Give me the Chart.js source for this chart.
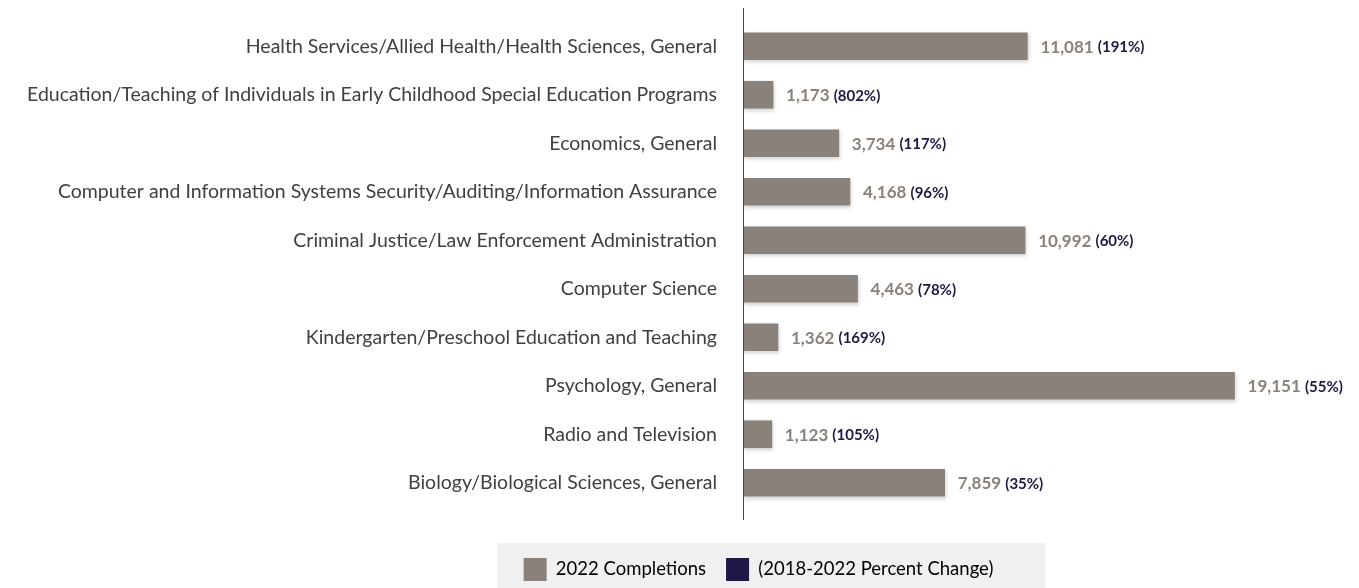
<!DOCTYPE html>
<html>
<head>
<meta charset="utf-8">
<script src="https://cdn.jsdelivr.net/npm/chart.js@4"></script>
<style>
  html, body { margin: 0; padding: 0; background: #fff; }
  #wrap { width: 1359px; height: 588px; }
</style>
</head>
<body>
<div id="wrap"><canvas id="programChart"></canvas></div>
<script>
const categories = [
    'Health Services/Allied Health/Health Sciences, General',
    'Education/Teaching of Individuals in Early Childhood Special Education Programs',
    'Economics, General',
    'Computer and Information Systems Security/Auditing/Information Assurance',
    'Criminal Justice/Law Enforcement Administration',
    'Computer Science',
    'Kindergarten/Preschool Education and Teaching',
    'Psychology, General',
    'Radio and Television',
    'Biology/Biological Sciences, General'
];
const completions = [11081, 1173, 3734, 4168, 10992, 4463, 1362, 19151, 1123, 7859];
const pctChange = [191, 802, 117, 96, 60, 78, 169, 55, 105, 35];
const legendNames = ['2022 Completions', '(2018-2022 Percent Change)'];

const GREY = '#8a827a';
const NAVY = '#1e1846';

// vertical axis line, value labels, legend backdrop
const extras = {
    id: 'extras',
    afterUpdate(chart) {
        // move legend to sit at the bottom edge, right of centre
        const lg = chart.legend;
        const dy = 3, dx = 79;
        lg.top += dy;
        lg.bottom += dy;
        lg.left += dx;
        lg.right += dx;
        lg.legendHitBoxes.forEach(h => { h.top += dy; h.left += dx; });
    },
    beforeDraw(chart) {
        const ctx = chart.ctx;
        const boxes = chart.legend.legendHitBoxes;
        if (!boxes.length) return;
        const first = boxes[0];
        const last = boxes[boxes.length - 1];
        const x1 = first.left - 26;
        const x2 = last.left + last.width + 52;
        ctx.save();
        ctx.fillStyle = '#f0f0f0';
        ctx.fillRect(x1, 543, x2 - x1, 45);
        ctx.restore();
    },
    beforeDatasetDraw(chart) {
        const ctx = chart.ctx;
        ctx.save();
        ctx.shadowColor = 'rgba(0,0,0,0.18)';
        ctx.shadowBlur = 4;
        ctx.shadowOffsetX = 1;
        ctx.shadowOffsetY = 2;
    },
    afterDatasetDraw(chart) {
        chart.ctx.restore();
    },
    afterDatasetsDraw(chart) {
        const ctx = chart.ctx;
        const x0 = chart.scales.x.getPixelForValue(0);
        ctx.save();
        ctx.strokeStyle = '#4a475a';
        ctx.lineWidth = 1;
        ctx.beginPath();
        ctx.moveTo(x0 + 0.5, 8);
        ctx.lineTo(x0 + 0.5, 520);
        ctx.stroke();

        const meta = chart.getDatasetMeta(0);
        ctx.textBaseline = 'middle';
        ctx.textAlign = 'left';
        meta.data.forEach((bar, i) => {
            const valText = completions[i].toLocaleString('en-US');
            const x = bar.x + 13;
            ctx.font = 'bold 17px Lato';
            ctx.fillStyle = GREY;
            ctx.fillText(valText, x, bar.y + 1);
            const w = ctx.measureText(valText + ' ').width;
            ctx.font = 'bold 15px Lato';
            ctx.fillStyle = NAVY;
            ctx.fillText('(' + pctChange[i] + '%)', x + w, bar.y + 1);
        });
        ctx.restore();
    }
};

const ctx = document.getElementById('programChart').getContext('2d');
const myChart = new Chart(ctx, {
    type: 'bar',
    data: {
        labels: categories,
        datasets: [{
            label: legendNames[0],
            data: completions,
            backgroundColor: GREY,
            borderWidth: 0,
            barThickness: 27
        }]
    },
    options: {
        indexAxis: 'y',
        responsive: true,
        maintainAspectRatio: false,
        animation: false,
        layout: {
            padding: { top: 22, left: 0, right: 0, bottom: 0 }
        },
        scales: {
            x: {
                min: 0,
                max: 24000,
                display: true,
                grid: { display: false },
                border: { display: false },
                ticks: { display: false },
                afterFit: function (scale) { scale.height = 28; }
            },
            y: {
                grid: { display: false },
                border: { display: false },
                ticks: {
                    padding: 18,
                    color: '#404040',
                    font: { family: 'Lato', size: 19.5 }
                },
                afterFit: function (scale) {
                    scale.width = 743;
                    scale.paddingTop = 0;
                    scale.paddingBottom = 0;
                }
            }
        },
        plugins: {
            tooltip: { enabled: false },
            legend: {
                position: 'bottom',
                labels: {
                    boxWidth: 23,
                    boxHeight: 23,
                    padding: 20,
                    color: '#4a4a4a',
                    font: { family: 'Lato', size: 18.5 },
                    generateLabels: function () {
                        return [
                            { text: legendNames[0], fillStyle: GREY, strokeStyle: GREY, lineWidth: 0, hidden: false, datasetIndex: 0 },
                            { text: legendNames[1], fillStyle: NAVY, strokeStyle: NAVY, lineWidth: 0, hidden: false, datasetIndex: 0 }
                        ];
                    }
                }
            }
        }
    },
    plugins: [extras]
});
</script>
</body>
</html>
